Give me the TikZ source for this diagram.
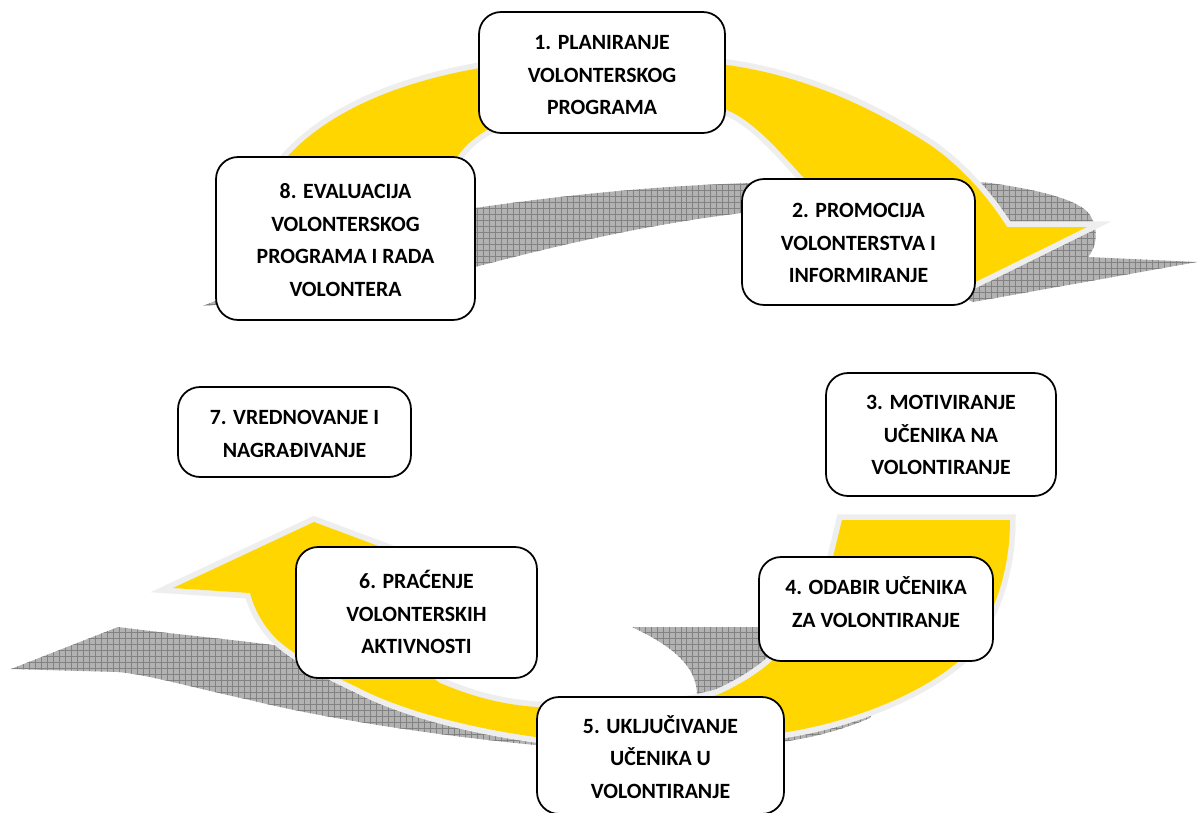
\documentclass[tikz,border=0pt]{standalone}
\usepackage{fontspec}
\setmainfont{Carlito}
\usetikzlibrary{patterns}
\pgfdeclarepatternformonly{tiles}{\pgfqpoint{-1pt}{-1pt}}{\pgfqpoint{4.4pt}{4.4pt}}{\pgfqpoint{3.4pt}{3.4pt}}{%
  \pgfsetlinewidth{0.55pt}%
  \pgfpathmoveto{\pgfqpoint{0pt}{0pt}}\pgfpathlineto{\pgfqpoint{3.4pt}{0pt}}%
  \pgfpathmoveto{\pgfqpoint{0pt}{0pt}}\pgfpathlineto{\pgfqpoint{0pt}{3.4pt}}%
  \pgfusepath{stroke}}
\definecolor{ylw}{RGB}{255,214,0}
\definecolor{outl}{RGB}{238,238,238}
\definecolor{shd}{RGB}{178,178,178}
\definecolor{shdl}{RGB}{130,130,130}
\begin{document}
\begin{tikzpicture}[x=0.02cm,y=-0.02cm,
  stepbox/.style={draw=black, line width=1pt, rounded corners=0.44cm, fill=white, inner sep=0pt},
  txt/.style={align=center, font=\bfseries\fontsize{12.4}{18.5}\selectfont, inner sep=0pt},
  arrowfill/.style={fill=ylw, preaction={draw=outl, line width=6.5pt, line join=miter}},
  shadowfill/.style={fill=shd, postaction={pattern=tiles, pattern color=shdl}}]
\useasboundingbox (0,0) rectangle (1197,812);

% upper shadow
\path[shadowfill] (203,306) .. controls (300,265) and (400,225) .. (475,208)
  .. controls (600,190) and (700,183) .. (800,182)
  .. controls (900,181) and (960,180) .. (990,183)
  .. controls (1040,190) and (1080,200) .. (1090,215)
  .. controls (1098,228) and (1098,245) .. (1088,257)
  -- (1197,262) -- (973,302)
  .. controls (880,260) and (800,215) .. (742,213)
  .. controls (640,225) and (540,250) .. (475,267)
  .. controls (380,285) and (280,300) .. (203,306) -- cycle;

% lower shadow
\path[shadowfill] (11,669) -- (118,627)
  .. controls (180,635) and (240,640) .. (286,647)
  .. controls (360,665) and (440,690) .. (537,703)
  .. controls (620,712) and (690,708) .. (697,695)
  .. controls (697,665) and (670,645) .. (632,627)
  -- (800,627)
  .. controls (870,635) and (890,680) .. (870,718)
  .. controls (830,735) and (790,743) .. (740,746)
  .. controls (660,749) and (590,748) .. (536,745)
  .. controls (450,737) and (330,720) .. (250,700)
  .. controls (190,687) and (150,675) .. (118,672) -- cycle;

% upper yellow arrow
\path[arrowfill] (258,225) .. controls (265,195) and (275,170) .. (287,157)
  .. controls (330,110) and (400,82) .. (480,68)
  .. controls (560,52) and (660,55) .. (727,65)
  .. controls (800,75) and (870,105) .. (933,147)
  .. controls (965,170) and (990,200) .. (1007,227)
  -- (1087,227) -- (955,292) -- (880,245) -- (803,177)
  .. controls (780,152) and (755,122) .. (727,110)
  .. controls (650,90) and (540,100) .. (487,130)
  .. controls (470,140) and (462,150) .. (457,157)
  -- (395,225) -- cycle;

% lower yellow arrow
\path[arrowfill] (842,520) -- (1010,520)
  .. controls (1010,570) and (995,620) .. (960,660)
  .. controls (920,695) and (850,722) .. (787,732)
  .. controls (700,745) and (600,745) .. (536,737)
  .. controls (470,728) and (400,710) .. (357,687)
  .. controls (320,670) and (285,650) .. (271,633)
  .. controls (260,620) and (253,605) .. (250,593)
  -- (173,588) -- (314,522) -- (440,569) -- (395,610)
  .. controls (405,640) and (420,670) .. (440,683)
  .. controls (480,700) and (510,705) .. (536,707)
  .. controls (620,712) and (680,705) .. (717,695)
  .. controls (740,685) and (760,672) .. (773,660)
  .. controls (800,630) and (830,590) .. (833,557)
  -- cycle;

% boxes
\node[stepbox, minimum width=4.92cm, minimum height=2.42cm] (b1) at (602,72.5) {};
\node[txt] (t1) at (602,75) {1. PLANIRANJE\\VOLONTERSKOG\\PROGRAMA};

\node[stepbox, minimum width=4.66cm, minimum height=2.52cm] (b2) at (858.5,242) {};
\node[txt] (t2) at (858.5,243) {2. PROMOCIJA\\VOLONTERSTVA I\\INFORMIRANJE};

\node[stepbox, minimum width=4.60cm, minimum height=2.46cm] (b3) at (941,434.5) {};
\node[txt] (t3) at (941,435) {3. MOTIVIRANJE\\UČENIKA NA\\VOLONTIRANJE};

\node[stepbox, minimum width=4.68cm, minimum height=2.08cm] (b4) at (876,609) {};
\node[txt] (t4) at (876,602) {4. ODABIR UČENIKA\\ZA VOLONTIRANJE};

\node[stepbox, minimum width=4.94cm, minimum height=2.34cm] (b5) at (660.5,755.5) {};
\node[txt] (t5) at (660.5,757) {5. UKLJUČIVANJE\\UČENIKA U\\VOLONTIRANJE};

\node[stepbox, minimum width=4.82cm, minimum height=2.62cm] (b6) at (416.5,612.5) {};
\node[txt] (t6) at (416.5,612) {6. PRAĆENJE\\VOLONTERSKIH\\AKTIVNOSTI};

\node[stepbox, minimum width=4.66cm, minimum height=1.80cm] (b7) at (294.5,432) {};
\node[txt] (t7) at (294.5,434) {7. VREDNOVANJE I\\NAGRAĐIVANJE};

\node[stepbox, minimum width=5.18cm, minimum height=3.26cm] (b8) at (345.5,238.5) {};
\node[txt] (t8) at (345.5,240) {8. EVALUACIJA\\VOLONTERSKOG\\PROGRAMA I RADA\\VOLONTERA};
\end{tikzpicture}
\end{document}
